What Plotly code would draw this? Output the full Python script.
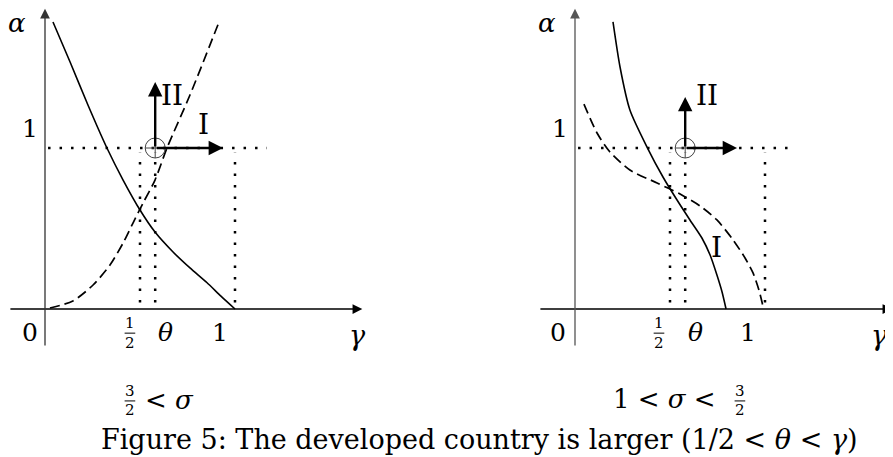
import plotly.graph_objects as go

# ---------------- data (gamma, alpha) in model units ----------------
# left panel: 3/2 < sigma
L_solid_g = [0.042, 0.132, 0.226, 0.326, 0.411, 0.500, 0.579, 0.674, 0.763, 0.853, 0.926, 1.000]
L_solid_a = [1.783, 1.534, 1.267, 1.000, 0.801, 0.615, 0.478, 0.354, 0.255, 0.163, 0.080, 0.000]
L_dash_g = [0.026, 0.147, 0.253, 0.342, 0.411, 0.463, 0.516, 0.579, 0.642, 0.763, 0.916]
L_dash_a = [0.006, 0.050, 0.149, 0.273, 0.410, 0.534, 0.658, 0.801, 1.000, 1.329, 1.783]
# right panel: 1 < sigma < 3/2
R_solid_g = [0.200, 0.237, 0.289, 0.379, 0.463, 0.537, 0.605, 0.668, 0.711, 0.747, 0.774, 0.795]
R_solid_a = [1.783, 1.503, 1.236, 1.006, 0.820, 0.677, 0.553, 0.441, 0.335, 0.211, 0.106, 0.000]
R_dash_g = [0.047, 0.116, 0.184, 0.289, 0.432, 0.553, 0.658, 0.747, 0.832, 0.895, 0.937, 0.968, 0.989]
R_dash_a = [1.273, 1.093, 0.975, 0.863, 0.783, 0.714, 0.640, 0.553, 0.429, 0.317, 0.224, 0.118, 0.019]

theta = 0.58
half = 0.5
one = 1.0
alpha_level = 1.0
tick_vals = [half, theta, one]

FONT = "DejaVu Serif"
BLACK = "#000000"

fig = go.Figure()

panels = [
    dict(xa="x", ya="y", sg=L_solid_g, sa=L_solid_a, dg=L_dash_g, da=L_dash_a,
         hend=1.168, up=1.41, right=0.937, frac_x=0.447, th_x=0.632, one_x=0.921, zero_x=-0.079,
         gam_x=1.644, II=(0.670, 1.329), I=(0.832, 1.143), yaxis_col="#333"),
    dict(xa="x2", ya="y2", sg=R_solid_g, sa=R_solid_a, dg=R_dash_g, da=R_dash_a,
         hend=1.158, up=1.317, right=0.853, frac_x=0.442, th_x=0.632, one_x=0.911, zero_x=-0.089,
         gam_x=1.600, II=(0.695, 1.329), I=(0.747, 0.385), yaxis_col="#555"),
]

annotations = []
shapes = []

for p in panels:
    xa, ya = p["xa"], p["ya"]
    dot = dict(color=BLACK, width=2.5, dash="2.5px,9px")
    fig.add_trace(go.Scatter(x=[0.016, p["hend"]], y=[alpha_level, alpha_level], mode="lines",
                             line=dot, xaxis=xa, yaxis=ya, showlegend=False, hoverinfo="skip"))
    for tv in tick_vals:
        fig.add_trace(go.Scatter(x=[tv, tv], y=[0.04, 0.97], mode="lines",
                                 line=dot, xaxis=xa, yaxis=ya, showlegend=False, hoverinfo="skip"))
    fig.add_trace(go.Scatter(x=p["sg"], y=p["sa"], mode="lines",
                             line=dict(color=BLACK, width=1.6, shape="spline", smoothing=0.7),
                             xaxis=xa, yaxis=ya, showlegend=False, hoverinfo="skip"))
    fig.add_trace(go.Scatter(x=p["dg"], y=p["da"], mode="lines",
                             line=dict(color=BLACK, width=1.7, dash="10px,5px", shape="spline", smoothing=0.7),
                             xaxis=xa, yaxis=ya, showlegend=False, hoverinfo="skip"))
    fig.add_trace(go.Scatter(x=[theta], y=[alpha_level], mode="markers",
                             marker=dict(symbol="circle-cross-open", size=20, color="#444", line=dict(width=1)),
                             xaxis=xa, yaxis=ya, showlegend=False, hoverinfo="skip"))

    annotations.append(dict(x=1.67, y=0, ax=-0.19, ay=0, xref=xa, yref=ya, axref=xa, ayref=ya,
                            showarrow=True, arrowhead=2, arrowsize=1.5, arrowwidth=1.3, arrowcolor=BLACK, text=""))
    annotations.append(dict(x=0, y=1.865, ax=0, ay=-0.236, xref=xa, yref=ya, axref=xa, ayref=ya,
                            showarrow=True, arrowhead=2, arrowsize=1.5, arrowwidth=1.3, arrowcolor=p["yaxis_col"], text=""))
    annotations.append(dict(x=theta, y=p["up"], ax=theta, ay=alpha_level, xref=xa, yref=ya, axref=xa, ayref=ya,
                            showarrow=True, arrowhead=2, arrowsize=1.2, arrowwidth=2.4, arrowcolor=BLACK, text=""))
    annotations.append(dict(x=p["right"], y=alpha_level, ax=theta, ay=alpha_level, xref=xa, yref=ya, axref=xa, ayref=ya,
                            showarrow=True, arrowhead=2, arrowsize=1.2, arrowwidth=2.4, arrowcolor=BLACK, text=""))

    def txt(x, y, s, size=25):
        annotations.append(dict(x=x, y=y, xref=xa, yref=ya, text=s, showarrow=False,
                                font=dict(family=FONT, size=size, color=BLACK), xanchor="center", yanchor="middle"))

    txt(-0.147, 1.775, "<i>α</i>", 26)
    txt(-0.079, 1.124, "1")
    txt(p["zero_x"], -0.149, "0")
    txt(p["frac_x"], -0.088, "1", 15)
    txt(p["frac_x"], -0.212, "2", 15)
    shapes.append(dict(type="line", xref=xa, yref=ya, x0=p["frac_x"] - 0.028, x1=p["frac_x"] + 0.028,
                       y0=-0.150, y1=-0.150, line=dict(color=BLACK, width=1)))
    txt(p["th_x"], -0.149, "<i>θ</i>")
    txt(p["one_x"], -0.149, "1")
    txt(p["gam_x"], -0.165, "<i>γ</i>", 27)
    txt(p["II"][0], p["II"][1], "II", 28)
    txt(p["I"][0], p["I"][1], "I", 28)

def ctxt(xa, ya, x, y, s, size=26):
    annotations.append(dict(x=x, y=y, xref=xa, yref=ya, text=s, showarrow=False,
                            font=dict(family=FONT, size=size, color=BLACK), xanchor="center", yanchor="middle"))

ctxt("x", "y", 0.447, -0.510, "3", 15)
ctxt("x", "y", 0.447, -0.628, "2", 15)
shapes.append(dict(type="line", xref="x", yref="y", x0=0.419, x1=0.475, y0=-0.571, y1=-0.571,
                   line=dict(color=BLACK, width=1)))
ctxt("x", "y", 0.655, -0.565, "&lt; <i>σ</i>")

ctxt("x2", "y2", 0.470, -0.560, "1 &lt; <i>σ</i> &lt;")
ctxt("x2", "y2", 0.868, -0.510, "3", 15)
ctxt("x2", "y2", 0.868, -0.628, "2", 15)
shapes.append(dict(type="line", xref="x2", yref="y2", x0=0.840, x1=0.896, y0=-0.571, y1=-0.571,
                   line=dict(color=BLACK, width=1)))

annotations.append(dict(x=0.5333, y=0.040, xref="paper", yref="paper", showarrow=False,
                        text="Figure 5: The developed country is larger (1/2 &lt; <i>θ</i> &lt; <i>γ</i>)",
                        font=dict(family=FONT, size=27, color=BLACK), xanchor="center", yanchor="middle"))

# page body has an 8px margin: figure is 885x449 so it fits the 893x457 window
yr = [-0.91925, 1.86957]
fig.update_layout(
    width=885, height=449, margin=dict(l=0, r=0, t=0, b=0),
    paper_bgcolor="white", plot_bgcolor="white",
    xaxis=dict(domain=[0, 0.5], range=[-0.19474, 2.13421], visible=False, fixedrange=True),
    yaxis=dict(domain=[0, 1], range=yr, visible=False, fixedrange=True),
    xaxis2=dict(domain=[0.5, 1], range=[-0.65526, 1.67368], visible=False, fixedrange=True),
    yaxis2=dict(domain=[0, 1], range=yr, visible=False, anchor="x2", fixedrange=True),
    annotations=annotations, shapes=shapes, showlegend=False,
)

fig.write_html("out.html")
